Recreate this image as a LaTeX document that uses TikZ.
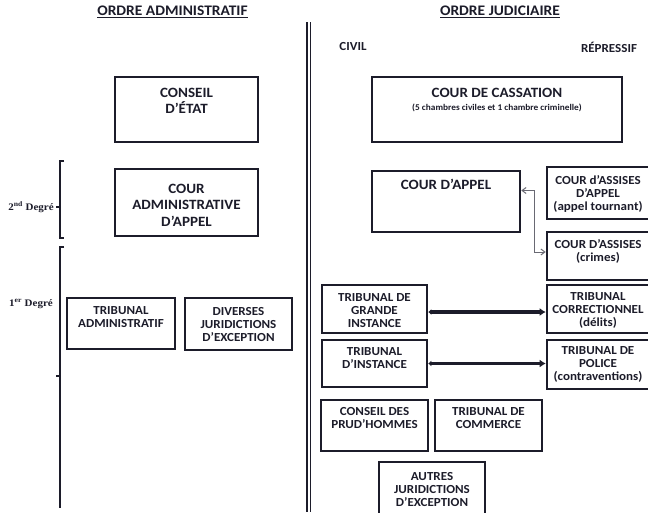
\documentclass[tikz,border=0pt]{standalone}
\usepackage{fontspec}
\setmainfont{Carlito}[FakeStretch=1.06]
\newfontfamily\degfont{Liberation Serif}[FakeStretch=1.1]
\usetikzlibrary{arrows.meta,fit}
\definecolor{ink}{RGB}{28,28,42}
\definecolor{arr}{RGB}{105,105,115}
\begin{document}
\begin{tikzpicture}[x=1pt,y=-1pt,
  box/.style={draw=ink, line width=2.6pt, inner sep=0pt, rectangle},
  txt/.style={align=center, inner sep=0pt, text=ink, font=\bfseries\fontsize{12.3}{13}\selectfont},
  bigtxt/.style={align=center, inner sep=0pt, text=ink, font=\bfseries\fontsize{14.2}{16.5}\selectfont},
  smalltxt/.style={align=center, inner sep=0pt, text=ink, font=\bfseries\fontsize{8.8}{10}\selectfont},
  headtxt/.style={inner sep=0pt, text=ink, font=\bfseries\fontsize{14.6}{16}\selectfont},
  coltxt/.style={inner sep=0pt, text=ink, font=\bfseries\fontsize{12.3}{14}\selectfont},
  degtxt/.style={inner sep=0pt, text=ink, font=\degfont\bfseries\fontsize{10}{11}\selectfont},
  brack/.style={draw=ink, line width=1.7pt},
  thinarrow/.style={draw=arr, line width=1pt, {Straight Barb[length=4pt,width=6pt]}-{Straight Barb[length=4pt,width=6pt]}},
  thickarrow/.style={draw=ink, line width=3.2pt, {Latex[length=3pt,width=6pt]}-{Latex[length=6pt,width=8pt]}}
]
\useasboundingbox (0,0) rectangle (648,512);
\fill[white] (0,0) rectangle (648,512);

% titles
\node[headtxt] (tadm) at (172.5,12) {\underline{ORDRE ADMINISTRATIF}};
\node[headtxt] (tjud) at (500,12) {\underline{ORDRE JUDICIAIRE}};
\node[coltxt] (civil) at (353,47) {CIVIL};
\node[coltxt] (repr) at (609,47) {RÉPRESSIF};

% separator
\coordinate (sepA) at (307,22);
\coordinate (sepB) at (307,512);
\coordinate (sepC) at (310.5,22);
\coordinate (sepD) at (310.5,512);
\draw[ink, line width=1.6pt] (sepA) -- (sepB);
\draw[ink, line width=1.6pt] (sepC) -- (sepD);

% degree brackets
\coordinate (b2a) at (64,161);
\coordinate (b2b) at (60,161);
\coordinate (b2c) at (60,238);
\coordinate (b2d) at (64,238);
\coordinate (b2m) at (60,207);
\coordinate (b2n) at (56,207);
\draw[brack] (b2a) -- (b2b) -- (b2c) -- (b2d);
\draw[brack] (b2m) -- (b2n);
\coordinate (b1a) at (64,247);
\coordinate (b1b) at (60,247);
\coordinate (b1c) at (60,508);
\coordinate (b1m) at (60,376);
\coordinate (b1n) at (56,376);
\draw[brack] (b1a) -- (b1b) -- (b1c);
\draw[brack] (b1m) -- (b1n);
\node[degtxt] (d2) at (31,207) {2\textsuperscript{nd} Degré};
\node[degtxt] (d1) at (31,304) {1\textsuperscript{er} Degré};

% administrative boxes
\node[box, fit={(115,77)(258,142)}] (ce) {};
\node[bigtxt] (cet) at (186.5,101) {CONSEIL\\D’ÉTAT};
\node[box, fit={(115,169)(258,236)}] (caa) {};
\node[bigtxt] (caat) at (186.5,205) {COUR\\ADMINISTRATIVE\\D’APPEL};
\node[box, fit={(67,298)(175,349)}] (ta) {};
\node[txt] (tat) at (121,317) {TRIBUNAL\\ADMINISTRATIF};
\node[box, fit={(185,298)(292,350)}] (dje) {};
\node[txt] (djet) at (238.5,325) {DIVERSES\\JURIDICTIONS\\D’EXCEPTION};

% judicial boxes
\node[box, fit={(372,77)(622,142)}] (cc) {};
\node[bigtxt] (cct) at (497,93) {COUR DE CASSATION};
\node[smalltxt] (ccs) at (497,108) {(5 chambres civiles et 1 chambre criminelle)};
\node[box, fit={(372,171)(520,232)}] (ca) {};
\node[bigtxt] (cat) at (446,184) {COUR D’APPEL};
\node[box, fit={(547,167)(654,219)}] (caap) {};
\node[txt] (caapt) at (598,194) {COUR d’ASSISES\\D’APPEL\\(appel tournant)};
\node[box, fit={(547,232)(654,280)}] (cas) {};
\node[txt] (cast) at (598,251) {COUR D’ASSISES\\(crimes)};
\node[box, fit={(322,285)(427,333)}] (tgi) {};
\node[txt] (tgit) at (374.5,310.5) {TRIBUNAL DE\\GRANDE\\INSTANCE};
\node[box, fit={(322,340)(427,387)}] (ti) {};
\node[txt] (tit) at (374.5,358) {TRIBUNAL\\D’INSTANCE};
\node[box, fit={(547,285)(654,333)}] (tc) {};
\node[txt] (tct) at (598,310.5) {TRIBUNAL\\CORRECTIONNEL\\(délits)};
\node[box, fit={(547,340)(654,389)}] (tp) {};
\node[txt] (tpt) at (598,364.5) {TRIBUNAL DE\\POLICE\\(contraventions)};
\node[box, fit={(321,400)(428,451)}] (cph) {};
\node[txt] (cpht) at (374.5,418.5) {CONSEIL DES\\PRUD’HOMMES};
\node[box, fit={(435,400)(542,451)}] (tcom) {};
\node[txt] (tcomt) at (488.5,418.5) {TRIBUNAL DE\\COMMERCE};
\node[box, fit={(379,462)(485,518)}] (aje) {};
\node[txt] (ajet) at (432,489.5) {AUTRES\\JURIDICTIONS\\D’EXCEPTION};

% connectors
\draw[thinarrow] ([yshift=11pt]ca.east) -- ++(13,0) |- ([yshift=4pt]cas.west);
\draw[thickarrow] ([yshift=-3pt]tgi.east) -- ([yshift=-3pt]tgi.east -| tc.west);
\draw[thickarrow] (ti.east) -- (ti.east -| tp.west);
\end{tikzpicture}
\end{document}
